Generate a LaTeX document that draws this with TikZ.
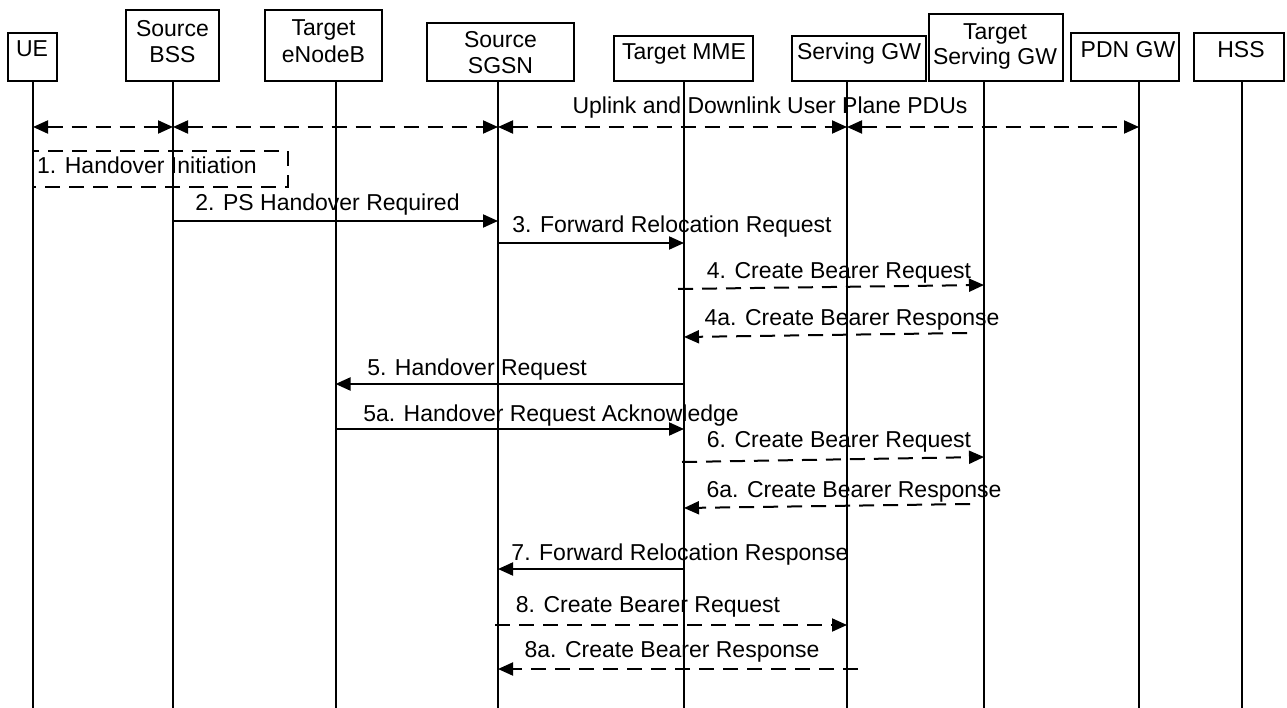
\documentclass[tikz,border=0pt]{standalone}
\usepackage{fontspec}
\setmainfont{Liberation Sans}
\usetikzlibrary{arrows.meta}
\tikzset{
  hdr/.style={draw, line width=2pt, inner sep=0pt},
  lbl/.style={anchor=base, inner sep=0pt, font=\fontsize{23}{27}\selectfont},
  life/.style={line width=2pt},
  tipx/.tip={Triangle[length=15pt,width=13pt]},
  msg/.style={line width=2pt, -tipx},
  dmsg/.style={msg, dash pattern=on 15pt off 9pt},
  bidi/.style={line width=2pt, tipx-tipx, dash pattern=on 15pt off 9pt},
  initbox/.style={draw, line width=2pt, dash pattern=on 15pt off 9pt, inner sep=0pt}
}
\begin{document}
\begin{tikzpicture}[x=1pt,y=-1pt]
\useasboundingbox (0,0) rectangle (1287,708);

% header boxes
\node[hdr, minimum width=49pt,  minimum height=47.7pt] (ue)   at (32.8,57.2) {};
\node[hdr, minimum width=93.3pt,minimum height=71pt]   (bss)  at (172.3,45.5) {};
\node[hdr, minimum width=117pt, minimum height=71pt]   (enb)  at (323.5,45.5) {};
\node[hdr, minimum width=147pt, minimum height=58pt]   (sgsn) at (500.5,52) {};
\node[hdr, minimum width=139pt, minimum height=45pt]   (mme)  at (683.5,58.5) {};
\node[hdr, minimum width=134pt, minimum height=45pt]   (sgw)  at (859,58.5) {};
\node[hdr, minimum width=134pt, minimum height=67pt]   (tsgw) at (996,47.5) {};
\node[hdr, minimum width=108pt, minimum height=48pt]   (pdn)  at (1125,57) {};
\node[hdr, minimum width=90pt,  minimum height=48pt]   (hss)  at (1239,57) {};

% header texts
\node[lbl] (tue)   at (32,57)    {UE};
\node[lbl] (tbss1) at (172.5,36.7) {Source};
\node[lbl] (tbss2) at (172.5,63) {BSS};
\node[lbl] (tenb1) at (323.5,36) {Target};
\node[lbl] (tenb2) at (323.5,63) {eNodeB};
\node[lbl] (tsg1)  at (500.5,48) {Source};
\node[lbl] (tsg2)  at (500.5,74) {SGSN};
\node[lbl] (tmme)  at (684,60)   {Target MME};
\node[lbl] (tsgw)  at (859,60)   {Serving GW};
\node[lbl] (ttsg1) at (995,40)   {Target};
\node[lbl] (ttsg2) at (995,65)   {Serving GW};
\node[lbl] (tpdn)  at (1128,58)  {PDN GW};
\node[lbl] (thss)  at (1241,58)  {HSS};

% lifeline tops
\coordinate (Lue)   at (33,81);
\coordinate (Lbss)  at (173,81);
\coordinate (Lenb)  at (335.5,81);
\coordinate (Lsgsn) at (498,81);
\coordinate (Lmme)  at (684,81);
\coordinate (Lsgw)  at (847,81);
\coordinate (Ltsgw) at (984,81);
\coordinate (Lpdn)  at (1139,81);
\coordinate (Lhss)  at (1242,81);

% message labels (drawn under the lifelines)
\node[lbl] (l0)  at (770,114)  {Uplink and Downlink User Plane PDUs};
\node[lbl, anchor=base west] (l1) at (37,174) {1. Handover Initiation};
\node[lbl] (l2)  at (327.5,211) {2. PS Handover Required};
\node[lbl] (l3)  at (672,233)  {3. Forward Relocation Request};
\node[lbl] (l4)  at (839,279)  {4. Create Bearer Request};
\node[lbl] (l4a) at (852,326)  {4a. Create Bearer Response};
\node[lbl] (l5)  at (477,375)  {5. Handover Request};
\node[lbl] (l5a) at (551,421)  {5a. Handover Request Acknowledge};
\node[lbl] (l6)  at (839,447)  {6. Create Bearer Request};
\node[lbl] (l6a) at (854,497)  {6a. Create Bearer Response};
\node[lbl] (l7)  at (680,560)  {7. Forward Relocation Response};
\node[lbl] (l8)  at (648,612)  {8. Create Bearer Request};
\node[lbl] (l8a) at (672,657)  {8a. Create Bearer Response};

% lifelines
\foreach \n in {ue,bss,enb,sgsn,mme,sgw,tsgw,pdn,hss}
  \draw[life] (L\n) -- (L\n |- 0,708);

% handover initiation box
\coordinate (ib1) at (33,151);
\coordinate (ib2) at (288,187);
\draw[line width=2pt, dash pattern=on 15pt off 9pt] (ib1) rectangle (ib2);

% user plane
\draw[bidi] (Lue |- 0,127) -- (Lbss |- 0,127);
\draw[bidi] (Lbss |- 0,127) -- (Lsgsn |- 0,127);
\draw[bidi] (Lsgsn |- 0,127) -- (Lsgw |- 0,127);
\draw[bidi] (Lsgw |- 0,127) -- (Lpdn |- 0,127);

% messages
\draw[msg]  (Lbss |- 0,221) -- (Lsgsn |- 0,221);
\draw[msg]  (Lsgsn |- 0,243) -- (Lmme |- 0,243);
\draw[dmsg] ([xshift=-6pt]Lmme |- 0,289) -- (Ltsgw |- 0,285);
\draw[dmsg] ([xshift=-17pt]Ltsgw |- 0,333) -- (Lmme |- 0,337);
\draw[msg]  (Lmme |- 0,384) -- (Lenb |- 0,384);
\draw[msg]  (Lenb |- 0,429) -- (Lmme |- 0,429);
\draw[dmsg] ([xshift=-2pt]Lmme |- 0,462) -- (Ltsgw |- 0,457);
\draw[dmsg] ([xshift=-14pt]Ltsgw |- 0,504) -- (Lmme |- 0,508);
\draw[msg]  (Lmme |- 0,569) -- (Lsgsn |- 0,569);
\draw[dmsg] ([xshift=-3pt]Lsgsn |- 0,625) -- (Lsgw |- 0,625);
\draw[dmsg] ([xshift=11pt]Lsgw |- 0,669) -- (Lsgsn |- 0,669);
\end{tikzpicture}
\end{document}
